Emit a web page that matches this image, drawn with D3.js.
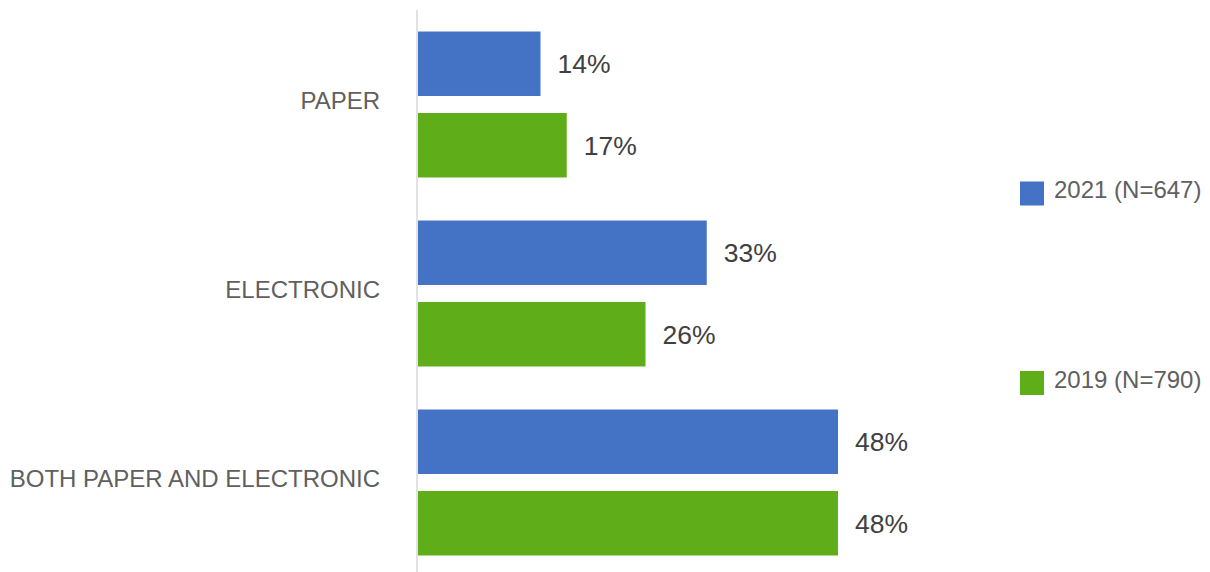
<!DOCTYPE html>
<html>
<head>
<meta charset="utf-8">
<script src="https://cdn.jsdelivr.net/npm/d3@7"></script>
<style>
  html, body { margin: 0; padding: 0; background: #fff; }
  svg { display: block; font-family: "Liberation Sans", Arial, sans-serif; }
</style>
</head>
<body>
<div id="chart"></div>
<script>
// data
const categories = ["PAPER", "ELECTRONIC", "BOTH PAPER AND ELECTRONIC"];
const series = ["2021 (N=647)", "2019 (N=790)"];
const values2021 = [0.14, 0.33, 0.48];
const values2019 = [0.17, 0.26, 0.48];
const colors = ["#4472c4", "#5fad18"];

const width = 1210, height = 572;
const valuesBySeries = [values2021, values2019];

const svg = d3
  .select("#chart")
  .append("svg")
  .attr("width", width)
  .attr("height", height);

const x = d3.scaleLinear([0, 0.48], [418, 838]);
const y = d3.scaleBand(categories, [10, 577]).padding(0);
const yInner = d3
  .scaleBand(series, [0, y.bandwidth()])
  .paddingInner(0.209)
  .paddingOuter(0.264);

const rows = categories.map((c, i) => ({
  cat: c,
  vals: series.map((s, j) => ({ s, j, v: valuesBySeries[j][i] })),
}));

const groups = svg
  .append("g")
  .selectAll("g")
  .data(rows)
  .join("g")
  .attr("transform", (d) => `translate(0,${y(d.cat)})`);

groups
  .selectAll("rect")
  .data((d) => d.vals)
  .join("rect")
  .attr("x", x(0))
  .attr("y", (d) => yInner(d.s))
  .attr("width", (d) => x(d.v) - x(0))
  .attr("height", yInner.bandwidth())
  .attr("fill", (d) => colors[d.j]);

groups
  .selectAll("text.val")
  .data((d) => d.vals)
  .join("text")
  .attr("class", "val")
  .attr("x", (d) => x(d.v) + 17)
  .attr("y", (d) => yInner(d.s) + yInner.bandwidth() / 2)
  .attr("dy", "0.35em")
  .attr("font-size", 26.5)
  .attr("fill", "#404040")
  .text((d) => d3.format(".0%")(d.v));

// category axis (left)
const axis = svg
  .append("g")
  .attr("transform", `translate(417,0)`)
  .call(d3.axisLeft(y).tickSize(0).tickPadding(37));

axis.select(".domain").attr("stroke", "#d9d9d9").attr("stroke-width", 1.5)
  .attr("d", "M0,10V572");
axis
  .selectAll("text")
  .attr("font-size", 24)
  .attr("fill", "#606060")
  .attr("font-family", "'Liberation Sans', Arial, sans-serif")
  .attr("dy", "0.17em");

// legend
const legendY = [193.5, 383];
const legend = svg
  .append("g")
  .selectAll("g")
  .data(series)
  .join("g")
  .attr("transform", (d, i) => `translate(1020,${legendY[i]})`);

legend
  .append("rect")
  .attr("x", 0)
  .attr("y", -12)
  .attr("width", 24)
  .attr("height", 24)
  .attr("fill", (d, i) => colors[i]);

legend
  .append("text")
  .attr("x", 34)
  .attr("y", 4.5)
  .attr("font-size", 24)
  .attr("fill", "#606060")
  .text((d) => d);
</script>
</body>
</html>
